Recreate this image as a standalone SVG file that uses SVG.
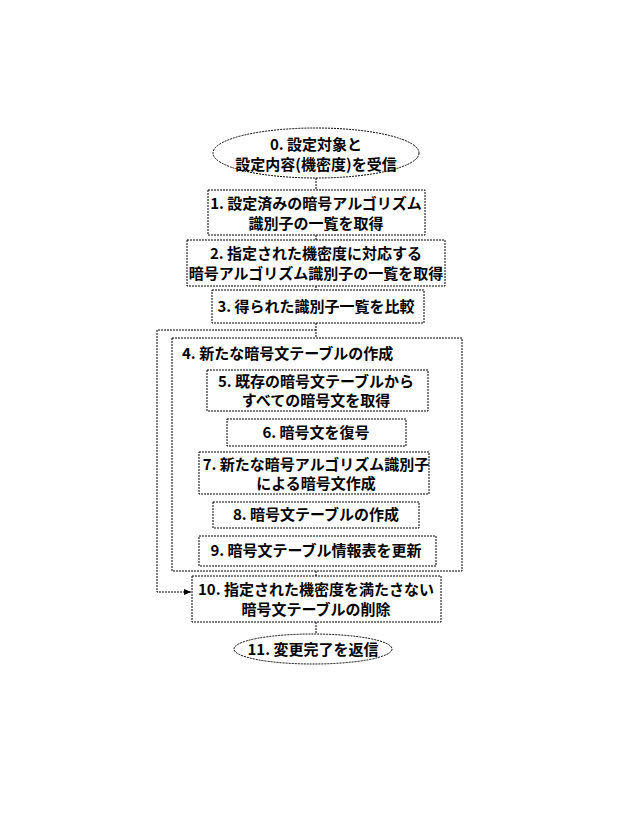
<svg xmlns="http://www.w3.org/2000/svg" width="622" height="827" viewBox="0 0 622 827">
<style>
.s{fill:#fff;stroke:#000;stroke-width:1;stroke-dasharray:2,1}
.t{font-family:"Noto Sans CJK JP",sans-serif;font-weight:bold;font-size:15px;text-anchor:middle;fill:#000}
.c{fill:none;stroke:#000;stroke-width:1;stroke-dasharray:2,1}
</style>
<defs><marker id="a" markerWidth="8" markerHeight="8" refX="7" refY="4" orient="auto"><path d="M0,1 L7,4 L0,7z" fill="#000"/></marker></defs>
<rect width="622" height="827" fill="#fff"/>
<g id="connectors">
<path class="c" d="M316,178V190M316,235V240M316,286V290M316,323V338M316,330H157V592H191" marker-end="url(#a)"/>
<path class="c" d="M316,411V419M316,446V452M316,494V502M316,528V536M316,571V576M316,622V634"/>
</g>
<g id="n4"><rect class="s" x="172" y="338" width="290" height="233"/><text class="t" x="182" y="359" text-anchor="start" style="text-anchor:start">4. 新たな暗号文テーブルの作成</text></g>
<g id="n0"><ellipse class="s" cx="316" cy="153" rx="103" ry="25"/><text class="t" x="316" y="150">0. 設定対象と</text><text class="t" x="316" y="170">設定内容(機密度)を受信</text></g>
<g id="n1"><rect class="s" x="208" y="190" width="217" height="45"/><text class="t" x="316" y="209">1. 設定済みの暗号アルゴリズム</text><text class="t" x="316" y="229">識別子の一覧を取得</text></g>
<g id="n2"><rect class="s" x="187" y="240" width="258" height="46"/><text class="t" x="316" y="259">2. 指定された機密度に対応する</text><text class="t" x="316" y="279">暗号アルゴリズム識別子の一覧を取得</text></g>
<g id="n3"><rect class="s" x="212" y="290" width="212" height="33"/><text class="t" x="316" y="312">3. 得られた識別子一覧を比較</text></g>
<g id="n5"><rect class="s" x="207" y="370" width="221" height="41"/><text class="t" x="316" y="387">5. 既存の暗号文テーブルから</text><text class="t" x="316" y="406">すべての暗号文を取得</text></g>
<g id="n6"><rect class="s" x="227" y="419" width="179" height="27"/><text class="t" x="316" y="438">6. 暗号文を復号</text></g>
<g id="n7"><rect class="s" x="199" y="452" width="230" height="42"/><text class="t" x="316" y="470">7. 新たな暗号アルゴリズム識別子</text><text class="t" x="316" y="489">による暗号文作成</text></g>
<g id="n8"><rect class="s" x="213" y="502" width="206" height="26"/><text class="t" x="316" y="520">8. 暗号文テーブルの作成</text></g>
<g id="n9"><rect class="s" x="199" y="536" width="237" height="30"/><text class="t" x="316" y="556">9. 暗号文テーブル情報表を更新</text></g>
<g id="n10"><rect class="s" x="192" y="576" width="249" height="46"/><text class="t" x="316" y="595">10. 指定された機密度を満たさない</text><text class="t" x="316" y="615">暗号文テーブルの削除</text></g>
<g id="n11"><ellipse class="s" cx="313" cy="649" rx="79" ry="15"/><text class="t" x="313" y="655">11. 変更完了を返信</text></g>
</svg>
